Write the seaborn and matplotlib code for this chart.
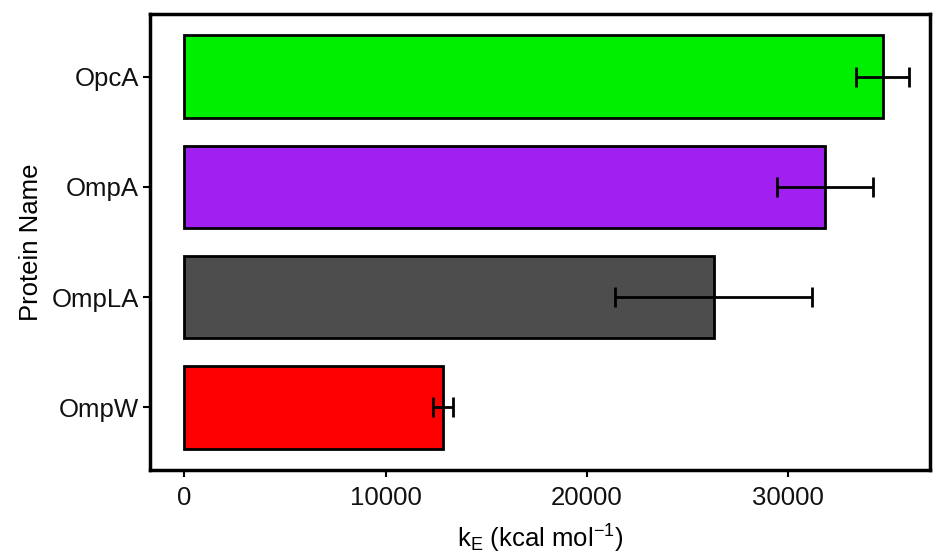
import numpy as np
import pandas as pd
import matplotlib
matplotlib.use("Agg")
import matplotlib.pyplot as plt
import seaborn as sns

# Datos
proteinas = ["OpcA", "OmpA", "OmpLA", "OmpW"]
k_e = [34700, 31850, 26300, 12850]
error = [1320, 2380, 4900, 480]
colores = ["#00EE00", "#A020F0", "#4D4D4D", "#FF0000"]

sns.set_theme(style="white")
plt.rcParams["font.family"] = ["Liberation Sans", "DejaVu Sans"]
plt.rcParams["mathtext.fontset"] = "custom"
plt.rcParams["mathtext.rm"] = "Liberation Sans"
plt.rcParams["mathtext.it"] = "Liberation Sans"

df = pd.DataFrame({"proteina": proteinas, "k_e": k_e, "error": error})

fig = plt.figure(figsize=(9.33, 5.55), dpi=100)
ax = fig.add_axes([150 / 933, 1 - 470 / 555, 780 / 933, 456 / 555])

sns.barplot(data=df, x="k_e", y="proteina", hue="proteina", palette=colores,
            legend=False, width=0.75, edgecolor="black", linewidth=2,
            orient="h", ax=ax, saturation=1)

ax.errorbar(df["k_e"], np.arange(len(df)), xerr=df["error"], fmt="none",
            ecolor="black", elinewidth=2, capsize=7.5, capthick=2)

ax.set_xlim(-1700, 37050)
ax.set_ylim(3.57, -0.57)
ax.set_xticks([0, 10000, 20000, 30000])
ax.set_xlabel(r"k$_\mathrm{E}$ (kcal mol$^{-1}$)", fontsize=18.5, color="black", labelpad=9)
ax.set_ylabel("Protein Name", fontsize=18.5, color="black", labelpad=6)
ax.tick_params(axis="x", pad=6.5)
ax.tick_params(axis="y", pad=3)
ax.tick_params(axis="both", labelsize=18.5, colors="black", length=5, width=1.5,
               direction="out", bottom=True, left=True, labelcolor="#111111")
for s in ax.spines.values():
    s.set_linewidth(2.5)
    s.set_color("black")

plt.savefig("out.png", dpi=100)
